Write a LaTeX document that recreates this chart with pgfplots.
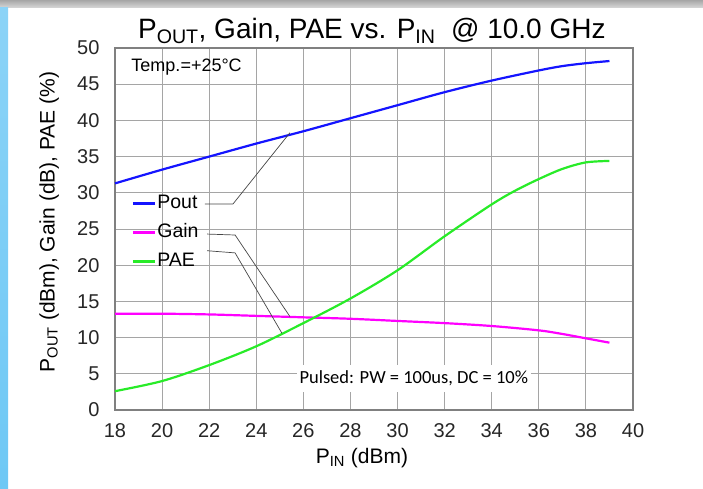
\documentclass[border=0pt]{standalone}
\usepackage{pgfplots}
\pgfplotsset{compat=1.18}
\usepackage{fontspec}
\setmainfont{Liberation Sans}
\newfontfamily\calibri{Carlito}
\definecolor{poutc}{RGB}{20,20,255}
\definecolor{gainc}{RGB}{255,0,255}
\definecolor{paec}{RGB}{40,235,40}
\definecolor{framec}{RGB}{128,128,128}
\definecolor{gridc}{RGB}{165,165,165}
\definecolor{calloutc}{RGB}{70,70,70}
\definecolor{stripblue}{RGB}{110,200,245}
\begin{document}
\begin{tikzpicture}
\path[use as bounding box] (0bp,0bp) rectangle (703bp,489bp);
\shade[top color=gray!70, bottom color=gray!30] (0bp,481bp) rectangle (703bp,489bp);
\shade[top color=stripblue!80, bottom color=stripblue] (0bp,0bp) rectangle (8bp,481bp);
\begin{axis}[
  at={(115bp,79bp)}, anchor=south west,
  scale only axis, width=518bp, height=362bp,
  xmin=18, xmax=40, ymin=0, ymax=50,
  xtick={18,20,...,40}, ytick={0,5,...,50},
  grid=major,
  major grid style={gridc, line width=0.9bp},
  axis line style={framec, line width=1.8bp},
  tick style={draw=none},
  clip=false,
  /pgf/number format/assume math mode=true,
  ticklabel style={font=\fontsize{20bp}{24bp}\selectfont, text=black!85},
  xticklabel style={yshift=-10bp},
  yticklabel style={xshift=-12bp},
  legend style={draw=none, fill=none, at={(axis cs:18.7,30.0)}, anchor=north west,
     inner sep=0pt, row sep=8bp,
     font=\fontsize{19.5bp}{22bp}\selectfont,
     nodes={inner sep=1.5bp, text height=14bp, text depth=4bp}},
  legend cell align=left,
  legend image code/.code={\draw[#1, line width=2.2bp] (0bp,0bp) -- (22bp,0bp);},
]
\addplot[poutc, line width=2.2bp, smooth] coordinates {
(18,31.3) (20,33.2) (22,35.0) (24,36.8) (26,38.5) (28,40.3) (30,42.1) (32,43.9) (34,45.5) (36,46.9) (37,47.5) (38,47.9) (39,48.2)};
\addlegendentry{Pout}
\addplot[gainc, line width=2.2bp, smooth] coordinates {
(18,13.3) (20,13.3) (22,13.2) (24,13.0) (26,12.8) (28,12.6) (30,12.3) (32,12.0) (34,11.6) (36,11.0) (37,10.5) (38,9.9) (39,9.3)};
\addlegendentry{Gain}
\addplot[paec, line width=2.2bp, smooth] coordinates {
(18,2.6) (20,4.0) (22,6.2) (24,8.8) (26,12.0) (28,15.4) (30,19.3) (32,24.0) (34,28.4) (35,30.3) (36,31.9) (37,33.3) (38,34.2) (39,34.4)};
\addlegendentry{PAE}
% callout lines
\draw[calloutc, line width=0.7bp] (axis cs:21.82,28.45) -- (axis cs:23.01,28.45) -- (axis cs:25.43,38.3);
\draw[calloutc, line width=0.7bp] (axis cs:21.91,24.3) -- (axis cs:23.1,24.17) -- (axis cs:25.43,12.9);
\draw[calloutc, line width=0.7bp] (axis cs:21.91,22.0) -- (axis cs:23.1,21.7) -- (axis cs:25.09,10.6);
% texts
\node[anchor=west, font=\fontsize{18bp}{20bp}\selectfont] at (axis cs:18.55,47.4) {Temp.=+25°C};
\node[anchor=west, fill=white, inner xsep=3bp, inner ysep=6bp, font=\calibri\fontsize{18.5bp}{20bp}\selectfont] at (axis cs:25.7,4.4) {Pulsed: PW = 100us, DC = 10\%};
\node[anchor=base, font=\fontsize{28bp}{32bp}\selectfont] at (axis cs:28.91,51.3) {P\textsubscript{OUT}, Gain, PAE vs. P\textsubscript{IN}\ \ @ 10.0 GHz};
\node[anchor=base, font=\fontsize{21bp}{24bp}\selectfont] at (axis cs:28.49,-7.4) {P\textsubscript{IN} (dBm)};
\node[rotate=90, anchor=center, font=\fontsize{21bp}{24bp}\selectfont] at (axis cs:15.2,25.97) {P\textsubscript{OUT} (dBm), Gain (dB), PAE (\%)};
\end{axis}
\end{tikzpicture}
\end{document}
